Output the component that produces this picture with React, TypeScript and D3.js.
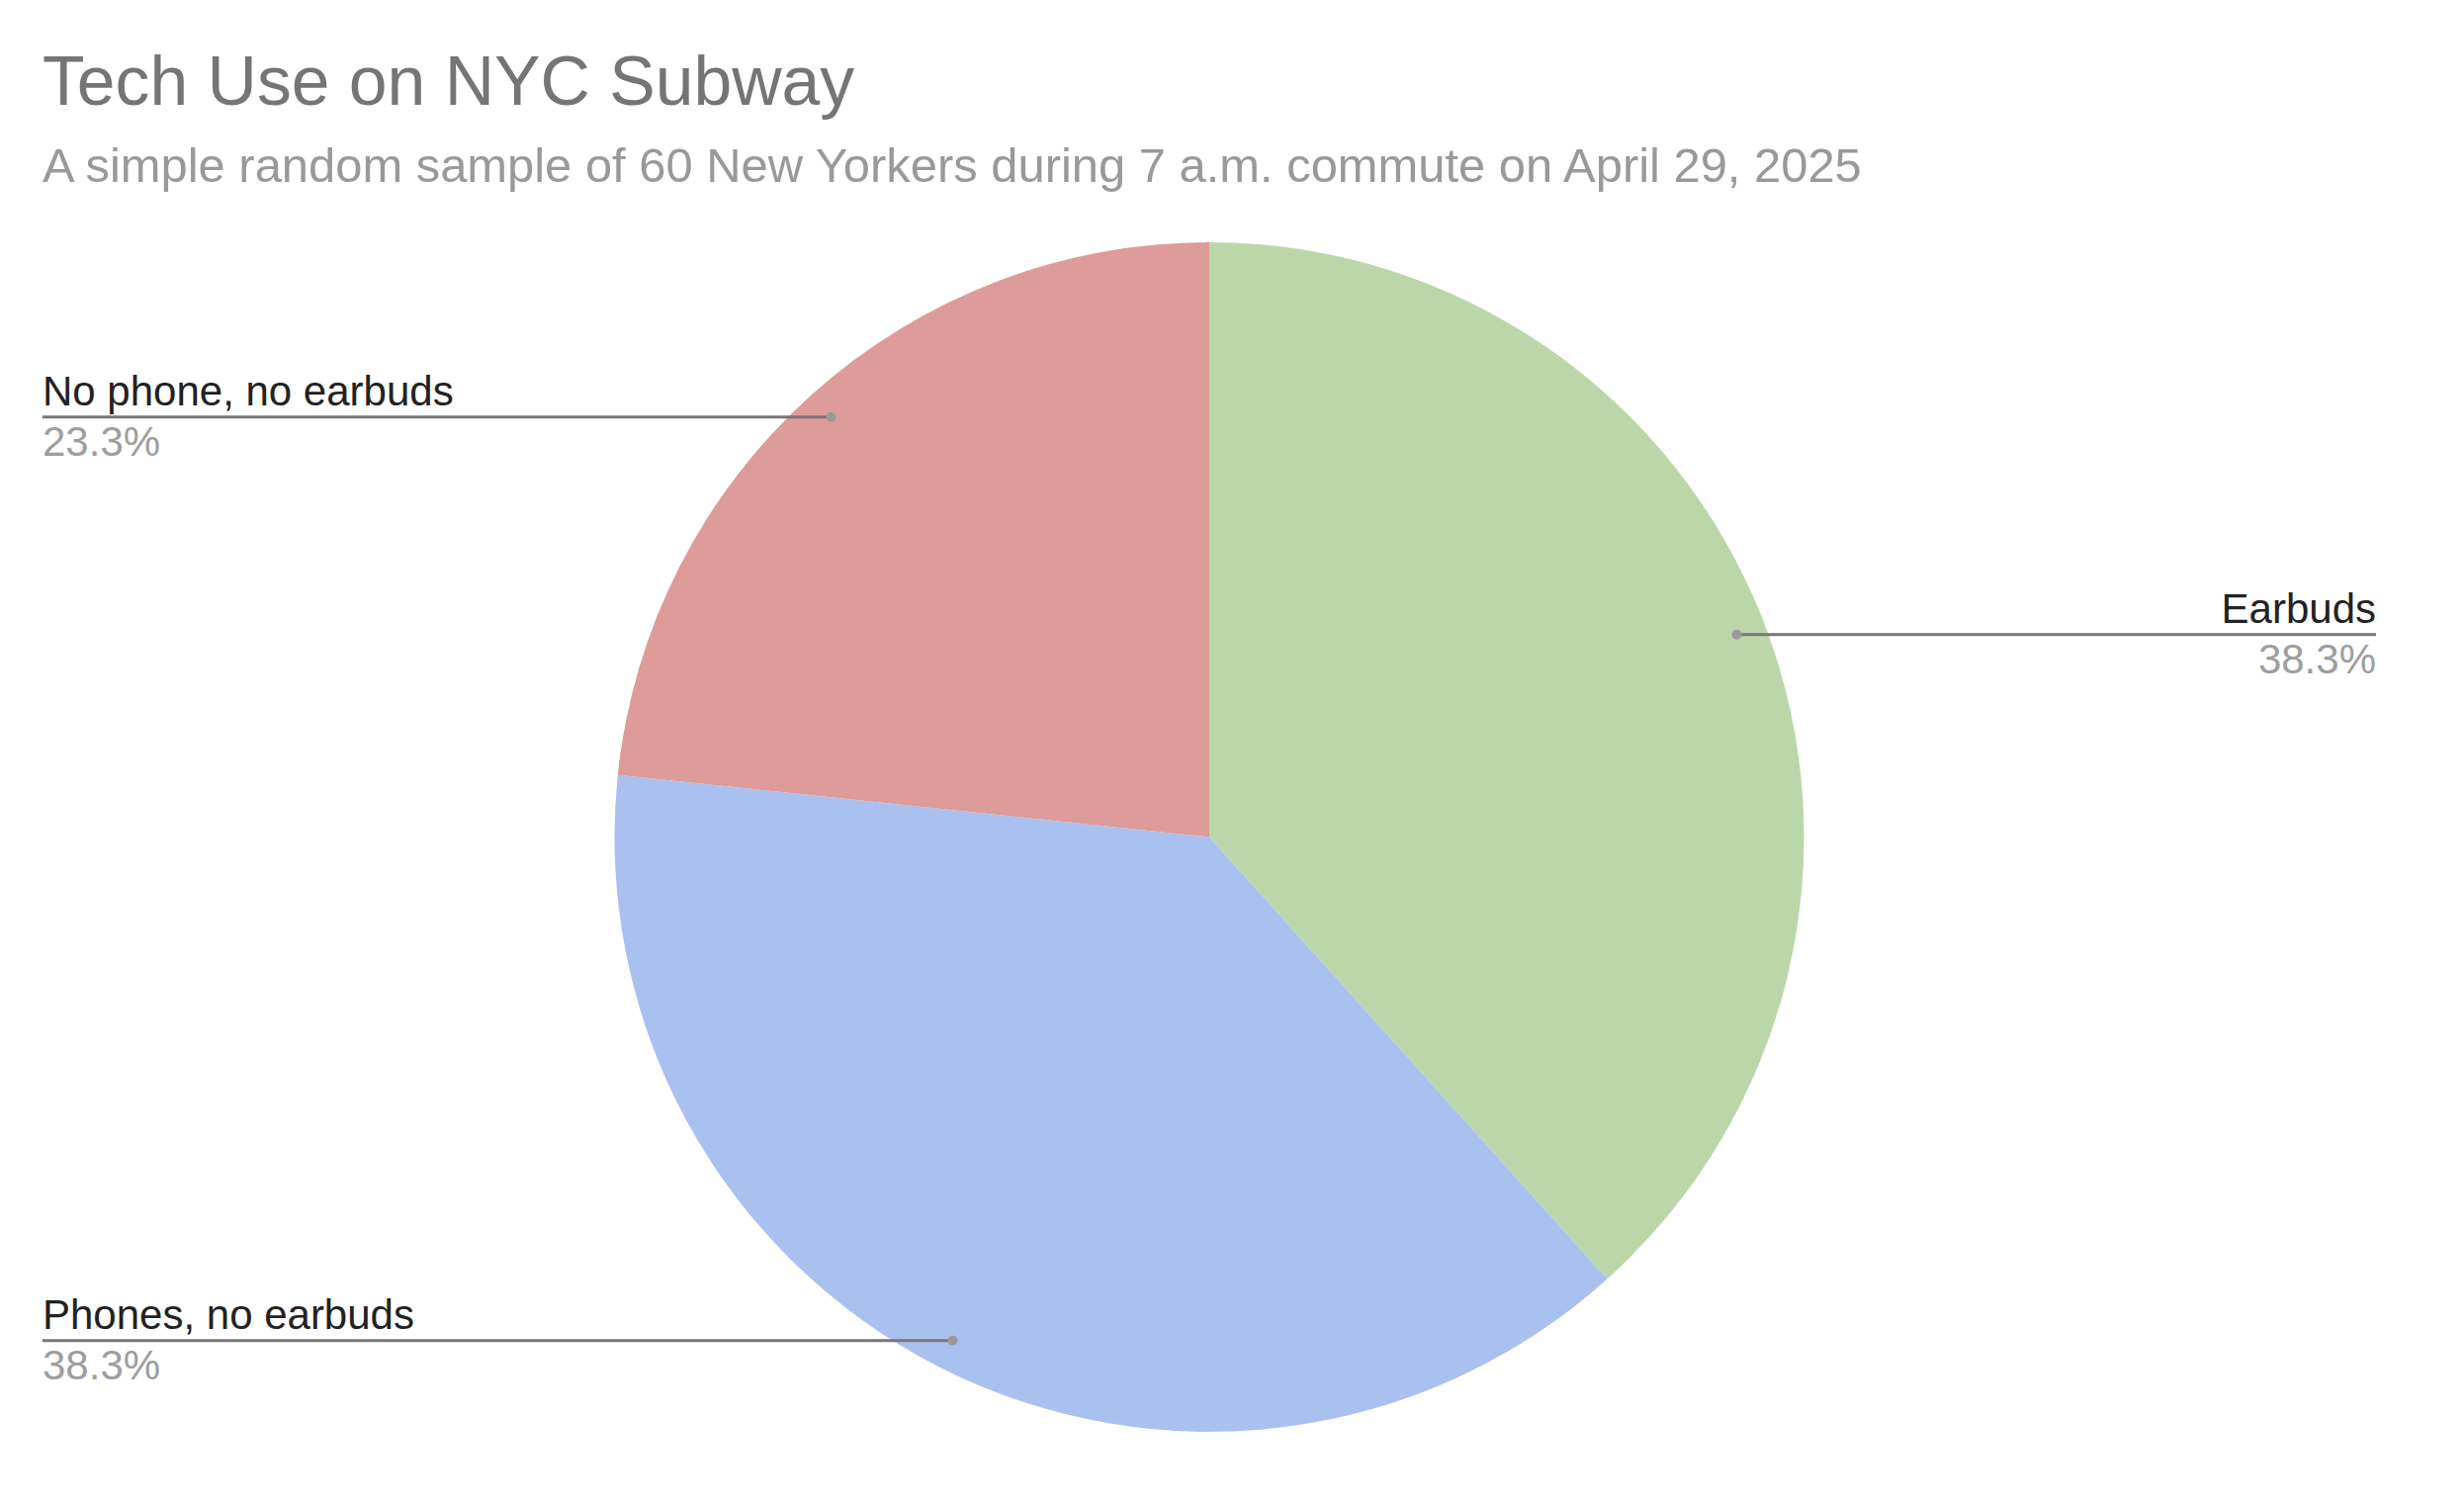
import React from "react";
import * as d3 from "d3";

const categories = ["Earbuds", "Phones, no earbuds", "No phone, no earbuds"];
const counts = [23, 23, 14];
const colors = ["#bbd7aa", "#aac0ef", "#dd9b99"];
const labelSide = ["right", "left", "left"];
const titleText = "Tech Use on NYC Subway";
const subtitleText = "A simple random sample of 60 New Yorkers during 7 a.m. commute on April 29, 2025";

const W = 2492;
const H = 1520;
const cx = 1223;
const cy = 846.5;
const R = 601.5;
const leftX = 43;
const rightX = 2403;
const font = "'Liberation Sans', Arial, sans-serif";

export default function App() {
  const total = d3.sum(counts);
  const pie = d3.pie<number>().sort(null).value((d) => d)(counts);
  const arc = d3.arc<d3.PieArcDatum<number>>().innerRadius(0).outerRadius(R);
  const fmt = (v: number) => (Math.round((v / total) * 1000) / 10).toFixed(1) + "%";

  return (
    <svg
      width={W}
      height={H}
      style={{ position: "absolute", left: 0, top: 0, background: "#fff" }}
      fontFamily={font}
    >
      <rect width={W} height={H} fill="#fff" />
      <text x={43} y={106} fontSize={69.7} fill="#757575">{titleText}</text>
      <text x={43} y={184} fontSize={48.9} fill="#999999">{subtitleText}</text>
      <g transform={`translate(${cx},${cy})`}>
        {pie.map((p, i) => (
          <path key={i} d={arc(p) || ""} fill={colors[i]} />
        ))}
      </g>
      {pie.map((p, i) => {
        const mid = (p.startAngle + p.endAngle) / 2;
        const rr = R * 0.95;
        const dx = cx + Math.sin(mid) * rr;
        const dy = cy - Math.cos(mid) * rr;
        const right = labelSide[i] === "right";
        const tx = right ? rightX : leftX;
        return (
          <g key={"l" + i}>
            <line x1={tx} x2={dx} y1={dy} y2={dy} stroke="#777777" strokeWidth={3} />
            <circle cx={dx} cy={dy} r={5} fill="#9a9a9a" />
            <text x={tx} y={dy - 12} fontSize={42} fill="#222222" textAnchor={right ? "end" : "start"}>
              {categories[i]}
            </text>
            <text x={tx} y={dy + 39} fontSize={42} fill="#9e9e9e" textAnchor={right ? "end" : "start"}>
              {fmt(counts[i])}
            </text>
          </g>
        );
      })}
    </svg>
  );
}
